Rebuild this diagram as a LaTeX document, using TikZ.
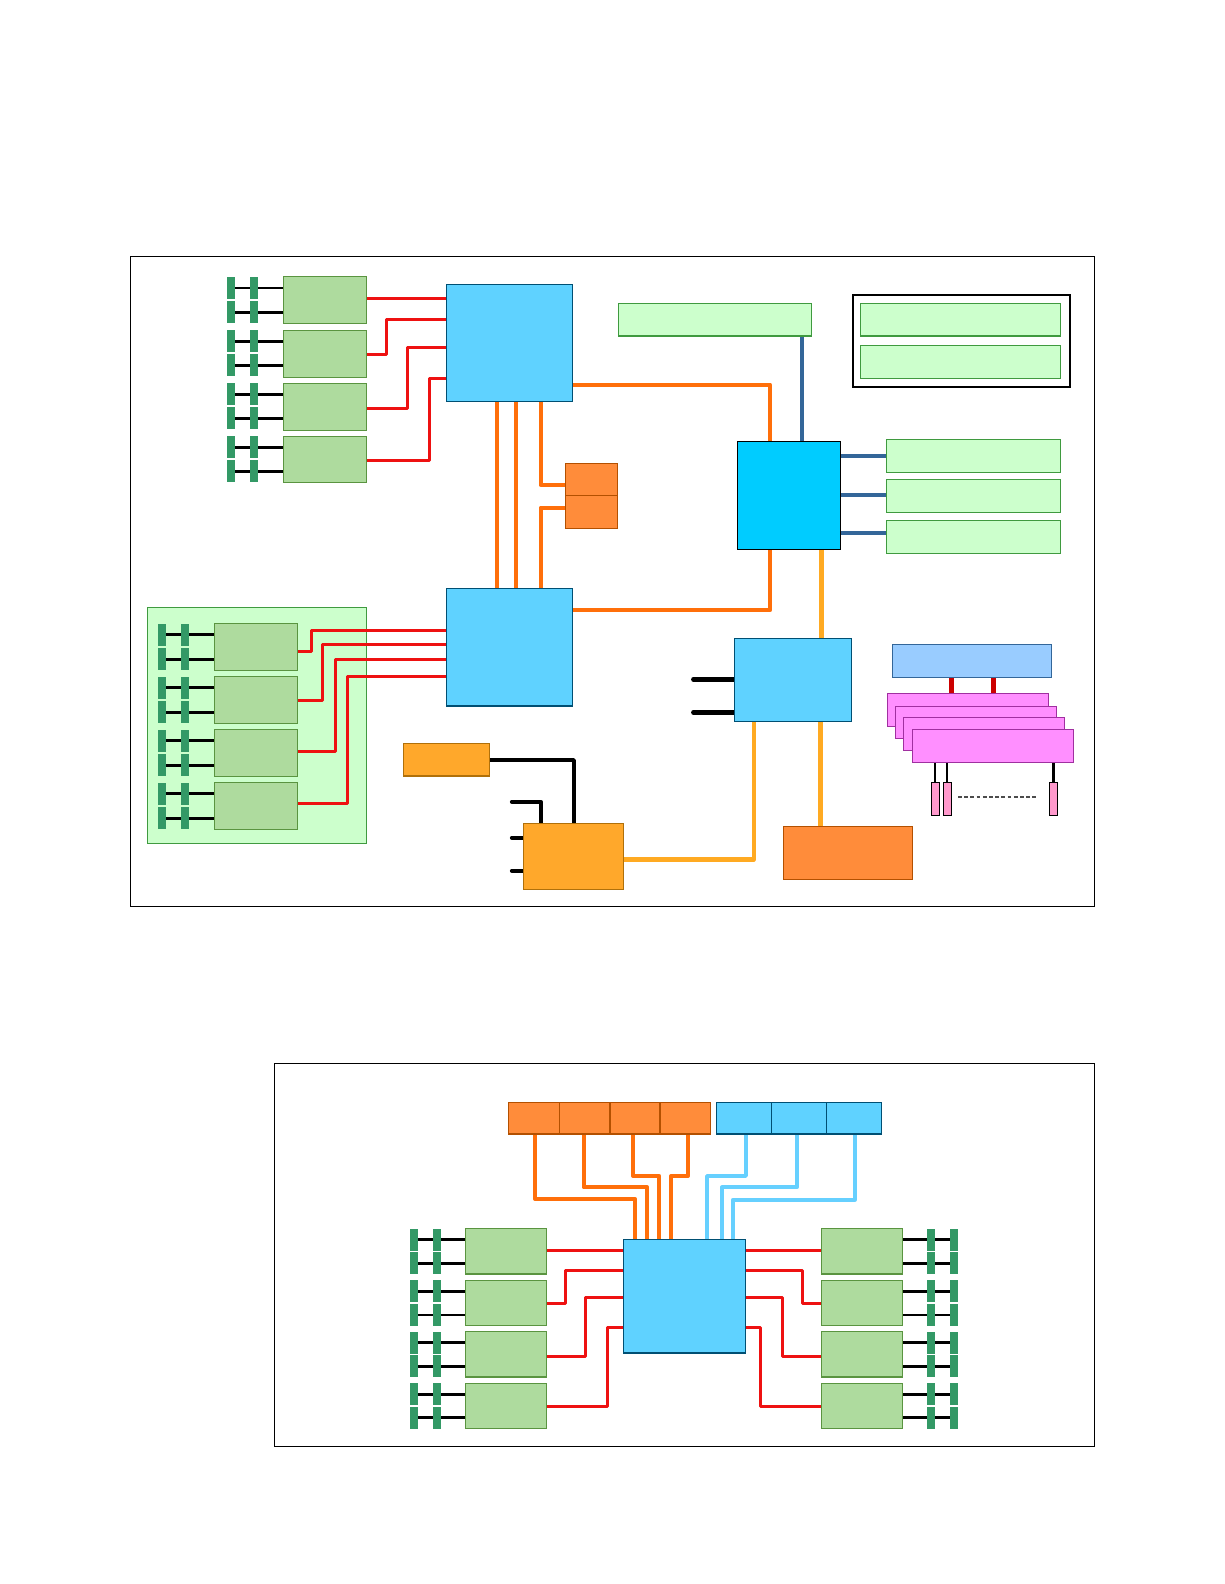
\documentclass[tikz,border=0pt]{standalone}
\pgfdeclarelayer{panel}
\pgfdeclarelayer{edges}
\pgfsetlayers{panel,edges,main}
\definecolor{dimmfill}{HTML}{AEDB9E}
\definecolor{dimmline}{HTML}{5A9440}
\definecolor{panelfill}{HTML}{CCFFCC}
\definecolor{panelline}{HTML}{3F9A3F}
\definecolor{hubfill}{HTML}{5FD2FF}
\definecolor{hubline}{HTML}{004F73}
\definecolor{ichfill}{HTML}{00CCFF}
\definecolor{orfill}{HTML}{FF8C3A}
\definecolor{orline}{HTML}{B35000}
\definecolor{yelfill}{HTML}{FFA82B}
\definecolor{yelline}{HTML}{B0700A}
\definecolor{stick}{HTML}{339966}
\definecolor{redl}{HTML}{EE1111}
\definecolor{darkred}{HTML}{CC0000}
\definecolor{orl}{HTML}{FF6F0A}
\definecolor{bluel}{HTML}{336699}
\definecolor{yell}{HTML}{FFAA22}
\definecolor{lbl}{HTML}{66D0FF}
\definecolor{pinkf}{HTML}{FF8FFF}
\definecolor{pinkl}{HTML}{A030A0}
\definecolor{slotf}{HTML}{FF99CC}
\definecolor{lbf}{HTML}{99CCFF}
\tikzset{
  bbox/.style={rectangle,inner sep=0pt,outer sep=0pt},
  framebox/.style={bbox,draw=black,line width=1pt},
  dimm/.style={bbox,draw=dimmline,fill=dimmfill,line width=1.4pt},
  panelbox/.style={bbox,draw=panelline,fill=panelfill,line width=1.2pt},
  slotbox/.style={bbox,draw=panelline,fill=panelfill,line width=1.4pt},
  hub/.style={bbox,draw=hubline,fill=hubfill,line width=1.3pt},
  ich/.style={bbox,draw=black,fill=ichfill,line width=1.2pt},
  orbox/.style={bbox,draw=orline,fill=orfill,line width=1.3pt},
  yelbox/.style={bbox,draw=yelline,fill=yelfill,line width=1.3pt},
  stickbox/.style={bbox,fill=stick},
  pinkbox/.style={bbox,draw=pinkl,fill=pinkf,line width=1.3pt},
  lbbox/.style={bbox,draw=bluel,fill=lbf,line width=1.5pt},
  pinslot/.style={bbox,draw=black,fill=slotf,line width=1pt},
  blackframe/.style={bbox,draw=black,line width=1.8pt},
  redw/.style={draw=redl,line width=3pt,line join=round},
  orw/.style={draw=orl,line width=4.2pt,line join=round},
  bluew/.style={draw=bluel,line width=4.2pt},
  yelw/.style={draw=yell,line width=4.4pt,line join=round},
  lblw/.style={draw=lbl,line width=3.7pt,line join=round},
  blackw/.style={draw=black,line width=2.9pt},
  stubw/.style={draw=black,line width=4.4pt,line join=round,line cap=round},
}
% style, name, x1, y1, x2, y2
\newcommand{\bx}[6]{\node[#1,minimum width={((#5)-(#3))*1pt},minimum height={((#6)-(#4))*1pt}] (#2) at ({((#3)+(#5))/2},{((#4)+(#6))/2}) {};}
% name, x1, y1, x2, y2, xa, xb, ya, yb : sticks 8 wide, 22 tall centred on lines ya and yb
\newcommand{\dm}[9]{%
  \bx{dimm}{#1}{#2}{#3}{#4}{#5}
  \bx{stickbox}{#1aa}{#6}{(#8)-11}{(#6)+8}{(#8)+11}
  \bx{stickbox}{#1ba}{#7}{(#8)-11}{(#7)+8}{(#8)+11}
  \bx{stickbox}{#1ab}{#6}{(#9)-11}{(#6)+8}{(#9)+11}
  \bx{stickbox}{#1bb}{#7}{(#9)-11}{(#7)+8}{(#9)+11}
  \begin{pgfonlayer}{edges}
    \draw[blackw] (#1aa.center) -- (#1.west |- #1aa.center);
    \draw[blackw] (#1ab.center) -- (#1.west |- #1ab.center);
  \end{pgfonlayer}
}
\newcommand{\dmr}[9]{%
  \bx{dimm}{#1}{#2}{#3}{#4}{#5}
  \bx{stickbox}{#1aa}{#6}{(#8)-11}{(#6)+8}{(#8)+11}
  \bx{stickbox}{#1ba}{#7}{(#8)-11}{(#7)+8}{(#8)+11}
  \bx{stickbox}{#1ab}{#6}{(#9)-11}{(#6)+8}{(#9)+11}
  \bx{stickbox}{#1bb}{#7}{(#9)-11}{(#7)+8}{(#9)+11}
  \begin{pgfonlayer}{edges}
    \draw[blackw] (#1ba.center) -- (#1.east |- #1ba.center);
    \draw[blackw] (#1bb.center) -- (#1.east |- #1bb.center);
  \end{pgfonlayer}
}
\begin{document}
\begin{tikzpicture}[x=1pt,y=-1pt]
\useasboundingbox (0,0) rectangle (1224,1584);
\begin{pgfonlayer}{panel}
  \fill[white] (0,0) rectangle (1224,1584);
  \bx{framebox}{frameA}{130.5}{256}{1094.5}{906}
  \bx{framebox}{frameB}{274.5}{1063.3}{1094.5}{1446.3}
  \bx{panelbox}{pnl}{147.3}{607.7}{366.7}{843.3}
\end{pgfonlayer}

% top DIMMs
\dm{ta}{283.3}{276.7}{366.7}{323.7}{227}{250}{288}{312.3}
\dm{tb}{283.3}{330.3}{366.7}{377.3}{227}{250}{341.3}{365.3}
\dm{tc}{283.3}{383.3}{366.7}{430.3}{227}{250}{394.3}{418.3}
\dm{td}{283.3}{436.3}{366.7}{482.7}{227}{250}{447.3}{471.3}
% panel DIMMs
\dm{pa}{214.7}{623.3}{297.7}{670.3}{158}{181}{634.8}{659.3}
\dm{pb}{214.7}{676.7}{297.7}{723.7}{158}{181}{687.8}{712.3}
\dm{pc}{214.7}{729.7}{297.7}{776.7}{158}{181}{740.8}{765.3}
\dm{pd}{214.7}{782.7}{297.7}{829.3}{158}{181}{793.8}{818.3}

% upper diagram main blocks
\bx{hub}{cpuA}{446.7}{284.3}{572.7}{401.7}
\bx{hub}{cpuB}{446.7}{588.3}{572.3}{706}
\bx{ich}{ioh}{737.3}{441.3}{840.7}{549.3}
\bx{hub}{ichb}{734.3}{638.7}{851.7}{721.3}
\bx{orbox}{orA}{565.7}{463.3}{617.3}{495.7}
\bx{orbox}{orB}{565.7}{495.7}{617.3}{528.3}
\bx{orbox}{orC}{783.7}{826.7}{912.3}{879.3}
\bx{yelbox}{yelA}{403.7}{743.3}{489.3}{776}
\bx{yelbox}{yelB}{523.3}{823.7}{623.3}{889.3}
\bx{slotbox}{gTop}{618.3}{303.3}{811.7}{336}
\bx{blackframe}{bfr}{853}{295.3}{1070.3}{387}
\bx{slotbox}{gIn1}{860.3}{303.3}{1060.3}{336}
\bx{slotbox}{gIn2}{860.3}{345.7}{1060.3}{378.3}
\bx{slotbox}{gR1}{886.3}{439.3}{1060.7}{472.3}
\bx{slotbox}{gR2}{886.3}{479.7}{1060.7}{512.3}
\bx{slotbox}{gR3}{886.3}{520.7}{1060.7}{553.3}
\bx{lbbox}{lb}{892.7}{644.3}{1051.3}{677.3}
\bx{pinkbox}{pk1}{887.3}{693.7}{1048.3}{726.7}
\bx{pinkbox}{pk2}{895.7}{706.3}{1056.7}{738.3}
\bx{pinkbox}{pk3}{903.7}{717.7}{1064.7}{750.3}
\bx{pinkbox}{pk4}{912.3}{729.7}{1073.3}{762.7}
\bx{pinslot}{sl1}{931.3}{782.3}{939.3}{815.3}
\bx{pinslot}{sl2}{943.3}{782.3}{951.3}{815.3}
\bx{pinslot}{sl3}{1049.3}{782.3}{1057.3}{815.3}

% lower diagram
\dm{la}{465.3}{1228.7}{546.7}{1274}{410}{433}{1239.8}{1263.3}
\dm{lb2}{465.3}{1280.3}{546.7}{1325.7}{410}{433}{1291.3}{1315}
\dm{lc}{465.3}{1331.7}{546.7}{1377}{410}{433}{1342.8}{1366.3}
\dm{ld}{465.3}{1383.3}{546.7}{1428.7}{410}{433}{1394.3}{1417.8}
\dmr{ra}{821.7}{1228.7}{902.7}{1274}{927}{950}{1239.8}{1263.3}
\dmr{rb}{821.7}{1280.3}{902.7}{1325.7}{927}{950}{1291.3}{1315}
\dmr{rc}{821.7}{1331.7}{902.7}{1377}{927}{950}{1342.8}{1366.3}
\dmr{rd}{821.7}{1383.3}{902.7}{1428.7}{927}{950}{1394.3}{1417.8}
\bx{hub}{cpuC}{623.3}{1239.3}{745.7}{1353}
\bx{orbox}{o1}{508.7}{1102.7}{559.7}{1134}
\bx{orbox}{o2}{559.7}{1102.7}{610}{1134}
\bx{orbox}{o3}{610}{1102.7}{660}{1134}
\bx{orbox}{o4}{660}{1102.7}{710.3}{1134}
\bx{hub}{b1}{716.3}{1102.7}{771.3}{1134}
\bx{hub}{b2}{771.3}{1102.7}{826.3}{1134}
\bx{hub}{b3}{826.3}{1102.7}{881.3}{1134}

\begin{pgfonlayer}{edges}
  % top DIMMs to CPU A
  \draw[redw] (ta.east |- 0,298.3) -- (cpuA.west |- 0,298.3);
  \draw[redw] (tb.east |- 0,354.3) -- (386.7,354.3) -- (386.7,319.3) -- (cpuA.west |- 0,319.3);
  \draw[redw] (tc.east |- 0,408.3) -- (407.3,408.3) -- (407.3,347.3) -- (cpuA.west |- 0,347.3);
  \draw[redw] (td.east |- 0,460.3) -- (429.7,460.3) -- (429.7,378.3) -- (cpuA.west |- 0,378.3);
  % panel DIMMs to CPU B
  \draw[redw] (pa.east |- 0,651.3) -- (311.3,651.3) -- (311.3,630.3) -- (cpuB.west |- 0,630.3);
  \draw[redw] (pb.east |- 0,700.7) -- (322.7,700.7) -- (322.7,644.3) -- (cpuB.west |- 0,644.3);
  \draw[redw] (pc.east |- 0,751.7) -- (335.3,751.7) -- (335.3,659.3) -- (cpuB.west |- 0,659.3);
  \draw[redw] (pd.east |- 0,803.7) -- (347.3,803.7) -- (347.3,676.3) -- (cpuB.west |- 0,676.3);
  % CPU links
  \draw[orw] (cpuA.south -| 496.7,0) -- (cpuB.north -| 496.7,0);
  \draw[orw] (cpuA.south -| 515.7,0) -- (cpuB.north -| 515.7,0);
  \draw[orw] (cpuA.south -| 540.7,0) -- (540.7,485) -- (orA.west |- 0,485);
  \draw[orw] (cpuB.north -| 540.7,0) -- (540.7,507.7) -- (orB.west |- 0,507.7);
  \draw[orw] (cpuA.east |- 0,384.7) -- (770,384.7) -- (ioh.north -| 770,0);
  \draw[orw] (cpuB.east |- 0,610) -- (770,610) -- (ioh.south -| 770,0);
  % IOH links
  \draw[bluew] (gTop.south -| 802,0) -- (ioh.north -| 802,0);
  \draw[bluew] (ioh.east |- 0,456.3) -- (gR1.west |- 0,456.3);
  \draw[bluew] (ioh.east |- 0,494.7) -- (gR2.west |- 0,494.7);
  \draw[bluew] (ioh.east |- 0,533.3) -- (gR3.west |- 0,533.3);
  \draw[yelw] (ioh.south -| 821.3,0) -- (ichb.north -| 821.3,0);
  \draw[yelw] (ichb.south -| 820.3,0) -- (orC.north -| 820.3,0);
  \draw[yelw] (ichb.south -| 754,0) -- (754,859.3) -- (yelB.east |- 0,859.3);
  % stubs
  \coordinate (sa) at (693.3,679.3);
  \coordinate (sb) at (693.3,712.3);
  \coordinate (sc) at (511.7,801.7);
  \coordinate (sd) at (511.7,837.7);
  \coordinate (se) at (511.7,870.7);
  \draw[stubw] (sa) -- (ichb.west |- sa);
  \draw[stubw] (sb) -- (ichb.west |- sb);
  \draw[stubw,line width=3.6pt] (sc) -- (541,801.7) -- (yelB.north -| 541,0);
  \draw[stubw,line width=3.6pt] (sd) -- (yelB.west |- sd);
  \draw[stubw,line width=3.6pt] (se) -- (yelB.west |- se);
  \draw[draw=black,line width=3.6pt,line join=round] (yelA.east |- 0,760) -- (574,760) -- (yelB.north -| 574,0);
  % pink group
  \draw[draw=darkred,line width=4.5pt] (lb.south -| 951.3,0) -- (pk1.north -| 951.3,0);
  \draw[draw=darkred,line width=4.5pt] (lb.south -| 993.3,0) -- (pk1.north -| 993.3,0);
  \draw[draw=black,line width=1.8pt] (pk4.south -| sl1.center) -- (sl1.north);
  \draw[draw=black,line width=1.8pt] (pk4.south -| sl2.center) -- (sl2.north);
  \draw[draw=black,line width=2.8pt] (pk4.south -| sl3.center) -- (sl3.north);
  \coordinate (da) at (958,797);
  \coordinate (db) at (1038,797);
  \draw[draw=black!70,line width=1.2pt,dash pattern=on 3.8pt off 2.4pt] (da) -- (db);
  % lower: cards to CPU C
  \draw[orw] (o1.south -| 535,0) -- (535,1198.7) -- (634.7,1198.7) -- (cpuC.north -| 634.7,0);
  \draw[orw] (o2.south -| 583.7,0) -- (583.7,1187.3) -- (647,1187.3) -- (cpuC.north -| 647,0);
  \draw[orw] (o3.south -| 633.3,0) -- (633.3,1176) -- (659,1176) -- (cpuC.north -| 659,0);
  \draw[orw] (o4.south -| 687.7,0) -- (687.7,1176) -- (671.3,1176) -- (cpuC.north -| 671.3,0);
  \draw[lblw] (b1.south -| 746,0) -- (746,1176) -- (707,1176) -- (cpuC.north -| 707,0);
  \draw[lblw] (b2.south -| 797,0) -- (797,1187.3) -- (722,1187.3) -- (cpuC.north -| 722,0);
  \draw[lblw] (b3.south -| 855,0) -- (855,1199.7) -- (732.7,1199.7) -- (cpuC.north -| 732.7,0);
  % lower: DIMMs to CPU C
  \draw[redw] (la.east |- 0,1250.3) -- (cpuC.west |- 0,1250.3);
  \draw[redw] (lb2.east |- 0,1303.3) -- (565.3,1303.3) -- (565.3,1270) -- (cpuC.west |- 0,1270);
  \draw[redw] (lc.east |- 0,1356.3) -- (585.7,1356.3) -- (585.7,1297) -- (cpuC.west |- 0,1297);
  \draw[redw] (ld.east |- 0,1406) -- (607.3,1406) -- (607.3,1327) -- (cpuC.west |- 0,1327);
  \draw[redw] (ra.west |- 0,1250.3) -- (cpuC.east |- 0,1250.3);
  \draw[redw] (rb.west |- 0,1303.3) -- (802.3,1303.3) -- (802.3,1270) -- (cpuC.east |- 0,1270);
  \draw[redw] (rc.west |- 0,1356.3) -- (782,1356.3) -- (782,1297) -- (cpuC.east |- 0,1297);
  \draw[redw] (rd.west |- 0,1406) -- (760.7,1406) -- (760.7,1327) -- (cpuC.east |- 0,1327);
\end{pgfonlayer}
\end{tikzpicture}
\end{document}
